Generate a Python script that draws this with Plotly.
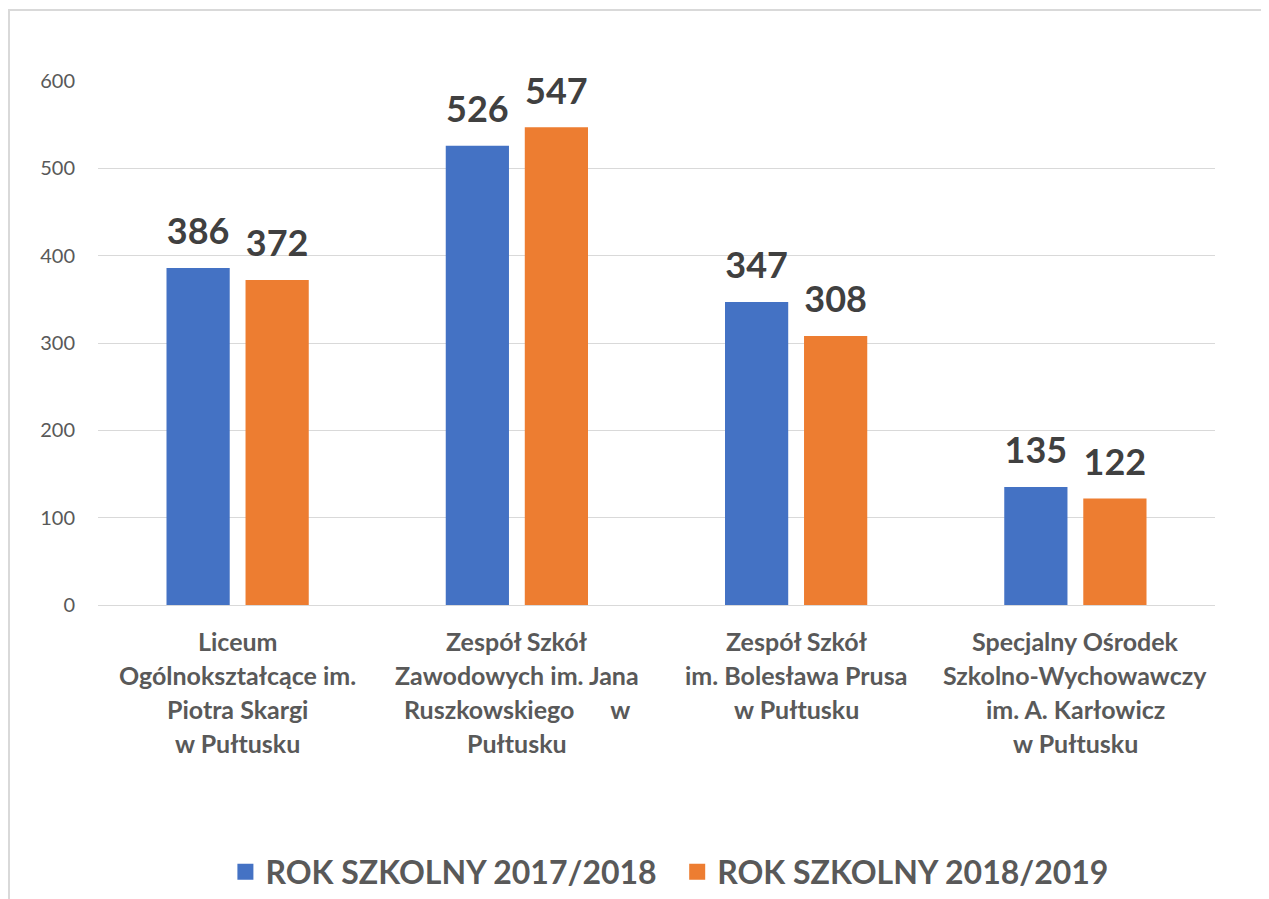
import plotly.graph_objects as go

categories = ["Liceum", "Zespół Szkół Zawodowych", "Zespół Szkół im. Prusa", "Specjalny Ośrodek"]
category_lines = [
    ["Liceum", "Ogólnokształcące im.", "Piotra Skargi", "w Pułtusku"],
    ["Zespół Szkół", "Zawodowych im. Jana", "Ruszkowskiego\u00a0\u00a0\u00a0\u00a0\u00a0\u00a0w", "Pułtusku"],
    ["Zespół Szkół", "im. Bolesława Prusa", "w Pułtusku"],
    ["Specjalny Ośrodek", "Szkolno-Wychowawczy", "im. A. Karłowicz", "w Pułtusku"],
]
series_names = ["ROK SZKOLNY 2017/2018", "ROK SZKOLNY 2018/2019"]
values_2017 = [386, 526, 347, 135]
values_2018 = [372, 547, 308, 122]
colors = ["#4472C4", "#ED7D31"]
y_ticks = [0, 100, 200, 300, 400, 500, 600]

FONT = "Lato"
fig = go.Figure()
for i, (name, vals) in enumerate(zip(series_names, [values_2017, values_2018])):
    fig.add_trace(go.Bar(
        x=categories, y=vals, name=name, marker=dict(color=colors[i], line=dict(width=0)),
        offsetgroup=str(i), alignmentgroup="g", showlegend=False,
    ))
for i, vals in enumerate([values_2017, values_2018]):
    fig.add_trace(go.Scatter(
        x=categories, y=vals, mode="markers+text", text=[str(v) for v in vals],
        marker=dict(size=22, opacity=0), textposition="top center",
        showlegend=False, hoverinfo="skip",
        textfont=dict(family=FONT, size=36, color="#404040", weight="bold"),
        offsetgroup=str(i), alignmentgroup="g", cliponaxis=False,
    ))
# legend entries with larger square swatches
legend_pad = ["\u00a0\u00a0", ""]
for i, name in enumerate(series_names):
    fig.add_trace(go.Scatter(
        x=[None], y=[None], mode="markers", name=name + legend_pad[i],
        marker=dict(symbol="square", size=20, color=colors[i]),
    ))

annotations = []
for cat, lines in zip(categories, category_lines):
    for j, line in enumerate(lines):
        annotations.append(dict(
            x=cat, xref="x", y=0, yref="paper", yanchor="middle", xanchor="center",
            yshift=-(36 + 34 * j), text=line, showarrow=False,
            font=dict(family=FONT, size=25, color="#595959", weight="bold"),
        ))

fig.update_layout(
    width=1269, height=899,
    margin=dict(l=90, r=62, t=73, b=302, autoexpand=False),
    paper_bgcolor="white", plot_bgcolor="white",
    barmode="group", bargap=0.434, bargroupgap=0.2,
    scattermode="group", scattergap=0.434,
    font=dict(family=FONT, color="#595959"),
    xaxis=dict(showticklabels=False, showgrid=False, zeroline=False, showline=False, ticks=""),
    yaxis=dict(range=[0, 600], tickvals=y_ticks, showgrid=True, gridcolor="#d9d9d9", gridwidth=1,
               zeroline=True, zerolinecolor="#d9d9d9", zerolinewidth=1, showline=False,
               tickfont=dict(family=FONT, size=20, color="#595959"), ticklabelstandoff=22),
    legend=dict(orientation="h", x=0.512, xanchor="center", y=-0.5095, yanchor="middle",
                font=dict(family=FONT, size=32, color="#595959", weight="bold"),
                itemwidth=30, tracegroupgap=0),
    annotations=annotations,
    shapes=[dict(type="rect", xref="paper", yref="paper", x0=-0.0797, x1=1.2, y0=1.1355, y1=-1,
                 line=dict(color="#d9d9d9", width=2), fillcolor="rgba(0,0,0,0)", layer="below")],
    showlegend=True,
)
fig.write_html("out.html")
